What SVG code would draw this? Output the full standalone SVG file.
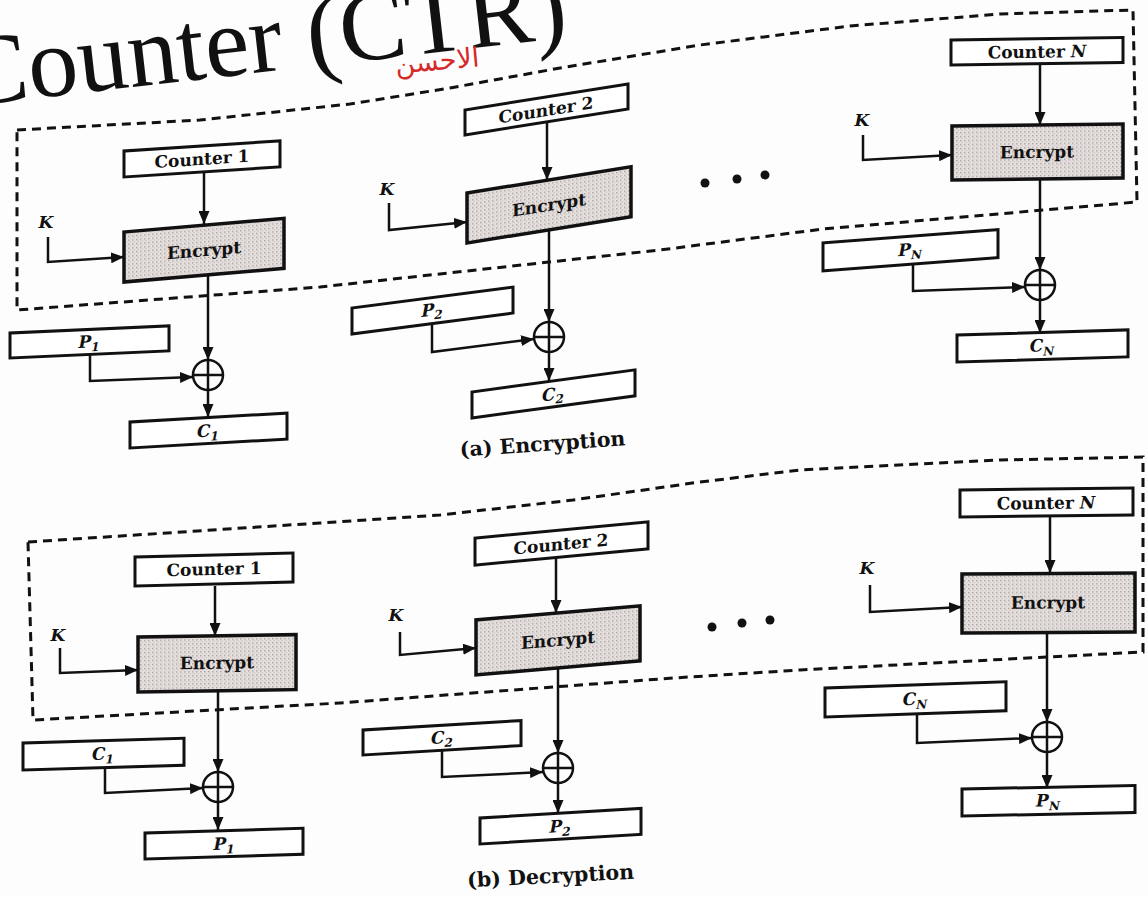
<svg xmlns="http://www.w3.org/2000/svg" width="1148" height="897" viewBox="0 0 1148 897">
  <defs>
    <pattern id="stipple" width="4" height="4" patternUnits="userSpaceOnUse">
      <rect width="4" height="4" fill="#e5dfdd"/>
      <rect x="0" y="0" width="1.4" height="1.4" fill="#aaa2a0"/>
      <rect x="2" y="2" width="1.1" height="1.1" fill="#c0b8b6"/>
    </pattern>
    <marker id="arrow" markerUnits="userSpaceOnUse" markerWidth="13" markerHeight="11" refX="13" refY="5.5" orient="auto">
      <path d="M0,0 L13,5.5 L0,11 z" fill="#111"/>
    </marker>
    <style>
      .box { fill: #fff; stroke: #111; stroke-width: 3; }
      .enc { fill: url(#stipple); stroke: #111; stroke-width: 3.5; }
      .lbl { font-family: "DejaVu Serif", "Liberation Serif", serif; font-weight: bold; font-size: 17px; fill: #111; text-anchor: middle; }
      .var { font-family: "DejaVu Serif", "Liberation Serif", serif; font-weight: bold; font-style: italic; font-size: 17px; fill: #111; text-anchor: middle; }
      .sub { font-size: 12px; }
      .key { font-family: "DejaVu Serif", "Liberation Serif", serif; font-weight: bold; font-style: italic; font-size: 17px; fill: #111; text-anchor: middle; }
      .wire { fill: none; stroke: #111; stroke-width: 2.5; marker-end: url(#arrow); }
      .xor { fill: none; stroke: #111; stroke-width: 2.5; }
      .frame { fill: none; stroke: #111; stroke-width: 3; stroke-dasharray: 9 6; }
      .cap { font-family: "DejaVu Serif", "Liberation Serif", serif; font-weight: bold; font-size: 20.5px; fill: #111; text-anchor: middle; }
      .dot { fill: #111; }
    </style>
  </defs>

  <rect width="1148" height="897" fill="#fdfdfd"/>

  <!-- page heading -->
  <text x="-35" y="106" transform="rotate(-6.5 -35 106)" font-family="Liberation Serif, serif" font-size="100" fill="#111">Counter (CTR)</text>
  <text x="438" y="70" transform="rotate(-5 438 70)" font-family="DejaVu Sans, sans-serif" font-size="27" fill="#d42a2a" text-anchor="middle">الاحسن</text>

  <!-- dashed frames -->
  <g id="frames">
    <path class="frame" d="M17,130 L200,120 L350,104 L450,88 L560,68 L700,45 L850,26 L1000,14 L1133,10 L1137,202 L823,229 L660,250 L320,287 L17,310 Z"/>
    <path class="frame" d="M28,542 L320,523 L440,515 L573,500 L700,482 L800,470 L1000,460 L1143,457 L1143,652 L800,670 L673,678 L340,703 L33,720 Z"/>
  </g>

  <!-- (a) encryption, block 1 -->
  <g id="ctr1a" transform="matrix(1,-0.065,0,1,0,8.06)">
    <rect class="box" x="124" y="151" width="156" height="26"/>
    <text class="lbl" x="202" y="170">Counter 1</text>
  </g>
  <g id="enc1a" transform="matrix(1,-0.085,0,1,0,10.54)">
    <rect class="enc" x="124" y="232" width="160" height="50"/>
    <text class="lbl" x="204" y="263">Encrypt</text>
  </g>
  <g id="key1a"><text class="key" x="46" y="228">K</text></g>
  <g id="p1a" transform="matrix(1,-0.045,0,1,0,0.45)">
    <rect class="box" x="10" y="333" width="159" height="25"/>
    <text class="var" x="89" y="351">P<tspan class="sub" dy="4">1</tspan></text>
  </g>
  <g id="xor1a">
    <circle class="xor" cx="208" cy="375" r="15"/>
    <path class="xor" d="M193,375 H223 M208,360 V390"/>
  </g>
  <g id="c1a" transform="matrix(1,-0.057,0,1,0,7.41)">
    <rect class="box" x="130" y="422" width="157" height="26"/>
    <text class="var" x="208" y="441">C<tspan class="sub" dy="4">1</tspan></text>
  </g>

  <!-- (a) encryption, block 2 -->
  <g id="ctr2a" transform="matrix(1,-0.16,0,1,0,74.4)">
    <rect class="box" x="465" y="110" width="163" height="25"/>
    <text class="lbl" x="546" y="129">Counter 2</text>
  </g>
  <g id="enc2a" transform="matrix(1,-0.16,0,1,0,74.72)">
    <rect class="enc" x="467" y="193" width="164" height="50"/>
    <text class="lbl" x="549" y="224">Encrypt</text>
  </g>
  <g id="key2a"><text class="key" x="387" y="195">K</text></g>
  <g id="p2a" transform="matrix(1,-0.13,0,1,0,45.76)">
    <rect class="box" x="352" y="308" width="161" height="26"/>
    <text class="var" x="432" y="326">P<tspan class="sub" dy="4">2</tspan></text>
  </g>
  <g id="xor2a">
    <circle class="xor" cx="549" cy="337" r="15"/>
    <path class="xor" d="M534,337 H564 M549,322 V352"/>
  </g>
  <g id="c2a" transform="matrix(1,-0.136,0,1,0,64.19)">
    <rect class="box" x="472" y="392" width="163" height="26"/>
    <text class="var" x="553" y="411">C<tspan class="sub" dy="4">2</tspan></text>
  </g>

  <!-- (a) encryption, block N -->
  <g id="ctrNa" transform="matrix(1,-0.015,0,1,0,14.3)">
    <rect class="box" x="951" y="40" width="172" height="25"/>
    <text class="lbl" x="1037" y="59">Counter <tspan font-style="italic">N</tspan></text>
  </g>
  <g id="encNa" transform="matrix(1,-0.012,0,1,0,11.4)">
    <rect class="enc" x="952" y="126" width="171" height="54"/>
    <text class="lbl" x="1037" y="159">Encrypt</text>
  </g>
  <g id="keyNa"><text class="key" x="862" y="126">K</text></g>
  <g id="pNa" transform="matrix(1,-0.076,0,1,0,62.5)">
    <rect class="box" x="823" y="243" width="175" height="28"/>
    <text class="var" x="910" y="262">P<tspan class="sub" dy="4">N</tspan></text>
  </g>
  <g id="xorNa">
    <circle class="xor" cx="1040" cy="285" r="15"/>
    <path class="xor" d="M1025,285 H1055 M1040,270 V300"/>
  </g>
  <g id="cNa" transform="matrix(1,-0.03,0,1,0,28.7)">
    <rect class="box" x="957" y="335" width="171" height="27"/>
    <text class="var" x="1042" y="354">C<tspan class="sub" dy="4">N</tspan></text>
  </g>

  <!-- (b) decryption, block 1 -->
  <g id="ctr1b" transform="matrix(1,-0.025,0,1,0,3.4)">
    <rect class="box" x="135" y="557" width="158" height="29"/>
    <text class="lbl" x="214" y="577">Counter 1</text>
  </g>
  <g id="enc1b" transform="matrix(1,-0.015,0,1,0,2.07)">
    <rect class="enc" x="138" y="637" width="158" height="55"/>
    <text class="lbl" x="217" y="670">Encrypt</text>
  </g>
  <g id="key1b"><text class="key" x="58" y="641">K</text></g>
  <g id="c1b" transform="matrix(1,-0.03,0,1,0,0.69)">
    <rect class="box" x="23" y="743" width="161" height="27"/>
    <text class="var" x="103" y="762">C<tspan class="sub" dy="4">1</tspan></text>
  </g>
  <g id="xor1b">
    <circle class="xor" cx="218" cy="787" r="15"/>
    <path class="xor" d="M203,787 H233 M218,772 V802"/>
  </g>
  <g id="p1b" transform="matrix(1,-0.03,0,1,0,4.35)">
    <rect class="box" x="145" y="833" width="158" height="26"/>
    <text class="var" x="224" y="852">P<tspan class="sub" dy="4">1</tspan></text>
  </g>

  <!-- (b) decryption, block 2 -->
  <g id="ctr2b" transform="matrix(1,-0.093,0,1,0,44.2)">
    <rect class="box" x="475" y="538" width="173" height="27"/>
    <text class="lbl" x="561" y="558">Counter 2</text>
  </g>
  <g id="enc2b" transform="matrix(1,-0.086,0,1,0,40.9)">
    <rect class="enc" x="476" y="620" width="164" height="55"/>
    <text class="lbl" x="558" y="653">Encrypt</text>
  </g>
  <g id="key2b"><text class="key" x="396" y="621">K</text></g>
  <g id="c2b" transform="matrix(1,-0.06,0,1,0,21.8)">
    <rect class="box" x="363" y="730" width="158" height="25"/>
    <text class="var" x="442" y="748">C<tspan class="sub" dy="4">2</tspan></text>
  </g>
  <g id="xor2b">
    <circle class="xor" cx="558" cy="768" r="15"/>
    <path class="xor" d="M543,768 H573 M558,753 V783"/>
  </g>
  <g id="p2b" transform="matrix(1,-0.06,0,1,0,28.8)">
    <rect class="box" x="480" y="818" width="161" height="26"/>
    <text class="var" x="560" y="837">P<tspan class="sub" dy="4">2</tspan></text>
  </g>

  <!-- (b) decryption, block N -->
  <g id="ctrNb" transform="matrix(1,-0.012,0,1,0,11.5)">
    <rect class="box" x="960" y="490" width="173" height="27"/>
    <text class="lbl" x="1046" y="510">Counter <tspan font-style="italic">N</tspan></text>
  </g>
  <g id="encNb" transform="matrix(1,-0.006,0,1,0,5.8)">
    <rect class="enc" x="962" y="574" width="173" height="59"/>
    <text class="lbl" x="1048" y="609">Encrypt</text>
  </g>
  <g id="keyNb"><text class="key" x="867" y="574">K</text></g>
  <g id="cNb" transform="matrix(1,-0.035,0,1,0,28.9)">
    <rect class="box" x="825" y="688" width="181" height="29"/>
    <text class="var" x="915" y="708">C<tspan class="sub" dy="4">N</tspan></text>
  </g>
  <g id="xorNb">
    <circle class="xor" cx="1047" cy="737" r="15"/>
    <path class="xor" d="M1032,737 H1062 M1047,722 V752"/>
  </g>
  <g id="pNb" transform="matrix(1,-0.02,0,1,0,19.2)">
    <rect class="box" x="962" y="789" width="173" height="27"/>
    <text class="var" x="1048" y="808">P<tspan class="sub" dy="4">N</tspan></text>
  </g>

  <!-- connectors -->
  <g id="connectors">
    <path class="wire" d="M48,237 L48,262 L124,257"/>
    <path class="wire" d="M204,172 L204,224"/>
    <path class="wire" d="M208,275 L208,360"/>
    <path class="wire" d="M90,354 L90,381 L193,377"/>
    <path class="wire" d="M208,390 L208,417"/>

    <path class="wire" d="M389,203 L389,230 L467,222"/>
    <path class="wire" d="M547,122 L547,180"/>
    <path class="wire" d="M549,230 L549,322"/>
    <path class="wire" d="M432,324 L432,352 L534,339"/>
    <path class="wire" d="M549,352 L549,381"/>

    <path class="wire" d="M863,135 L863,160 L952,155"/>
    <path class="wire" d="M1040,64 L1040,125"/>
    <path class="wire" d="M1040,179 L1040,270"/>
    <path class="wire" d="M913,264 L913,291 L1025,287"/>
    <path class="wire" d="M1040,300 L1040,333"/>

    <path class="wire" d="M60,648 L60,673 L138,670"/>
    <path class="wire" d="M215,586 L215,636"/>
    <path class="wire" d="M218,691 L218,772"/>
    <path class="wire" d="M105,768 L105,793 L203,788"/>
    <path class="wire" d="M218,802 L218,830"/>

    <path class="wire" d="M400,632 L400,655 L476,648"/>
    <path class="wire" d="M556,558 L556,613"/>
    <path class="wire" d="M558,668 L558,753"/>
    <path class="wire" d="M442,750 L442,777 L543,772"/>
    <path class="wire" d="M558,783 L558,813"/>

    <path class="wire" d="M870,585 L870,612 L962,607"/>
    <path class="wire" d="M1050,516 L1050,573"/>
    <path class="wire" d="M1047,632 L1047,722"/>
    <path class="wire" d="M917,714 L917,743 L1032,738"/>
    <path class="wire" d="M1047,752 L1047,788"/>
  </g>

  <!-- ellipsis between block 2 and block N -->
  <g id="ellipsis">
    <circle class="dot" cx="705" cy="183" r="4.5"/>
    <circle class="dot" cx="737" cy="179" r="4.5"/>
    <circle class="dot" cx="765" cy="175" r="4.5"/>
    <circle class="dot" cx="712" cy="627" r="4.5"/>
    <circle class="dot" cx="742" cy="623" r="4.5"/>
    <circle class="dot" cx="770" cy="620" r="4.5"/>
  </g>

  <!-- captions -->
  <text class="cap" x="543" y="451" transform="rotate(-4 543 451)">(a) Encryption</text>
  <text class="cap" x="551" y="883" transform="rotate(-3 551 883)">(b) Decryption</text>
</svg>
